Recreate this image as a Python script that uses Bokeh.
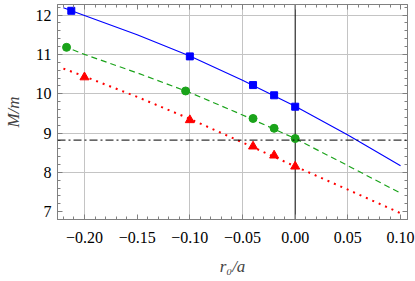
from bokeh.plotting import figure
from bokeh.models import LinearAxis, FixedTicker, Span, Range1d, CustomLabelingPolicy
from bokeh.embed import file_html
from bokeh.resources import INLINE

# ---- data ----
blue_x = [-0.2125, -0.10, -0.04, -0.02, 0.00]
blue_y = [12.11, 10.95, 10.22, 9.96, 9.67]
green_x = [-0.217, -0.104, -0.04, -0.02, 0.00]
green_y = [11.18, 10.07, 9.37, 9.12, 8.86]
red_x = [-0.20, -0.10, -0.04, -0.02, 0.00]
red_y = [10.42, 9.33, 8.66, 8.43, 8.15]

fit_x = [-0.22, -0.20, -0.15, -0.10, -0.05, 0.00, 0.05, 0.10]
blue_fit = [12.19, 11.99, 11.50, 10.96, 10.34, 9.68, 8.95, 8.17]
green_fit = [11.21, 11.00, 10.53, 10.03, 9.46, 8.86, 8.17, 7.47]
red_fit = [10.64, 10.44, 9.92, 9.36, 8.76, 8.15, 7.56, 6.96]

threshold = 8.82

x_ticks = [-0.20, -0.15, -0.10, -0.05, 0.00, 0.05, 0.10]
x_tick_labels = ["\u22120.20", "\u22120.15", "\u22120.10", "\u22120.05", "0.00", "0.05", "0.10"]
x_minor = [round(-0.22 + 0.01 * i, 2) for i in range(33)]
y_ticks = [7, 8, 9, 10, 11, 12]
y_tick_labels = ["7", "8", "9", "10", "11", "12"]
y_minor = [round(6.8 + 0.2 * i, 1) for i in range(28)]
x_grid = [-0.20, -0.10, -0.05, 0.05]
y_grid = [8, 9, 10, 11, 12]

FONT = "Liberation Serif"
FRAME = "#808080"

p = figure(width=415, height=281,
           x_range=Range1d(-0.2256, 0.1066), y_range=Range1d(6.8, 12.27),
           output_backend="svg", toolbar_location=None,
           min_border_left=56, min_border_right=8, min_border_top=2, min_border_bottom=62)
p.outline_line_color = FRAME
p.background_fill_color = "white"
p.border_fill_color = "white"

hide_all = CustomLabelingPolicy(code="""
for (let i = 0; i < indices.size; i++) { indices.unset(i) }
return indices
""")

def style_axis(ax, ticks, minor, labels, show_labels):
    ax.ticker = FixedTicker(ticks=ticks, minor_ticks=minor)
    ax.axis_line_color = FRAME
    ax.major_tick_line_color = FRAME
    ax.minor_tick_line_color = FRAME
    ax.major_tick_in = 5
    ax.major_tick_out = 0
    ax.minor_tick_in = 3
    ax.minor_tick_out = 0
    ax.major_label_overrides = {t: l for t, l in zip(ticks, labels)}
    if show_labels:
        ax.major_label_text_font = FONT
        ax.major_label_text_font_size = "16px"
        ax.major_label_text_color = "black"
    else:
        ax.major_label_policy = hide_all
        ax.major_label_text_font_size = "1px"
        ax.major_label_standoff = 0

xa = p.xaxis[0]
style_axis(xa, x_ticks, x_minor, x_tick_labels, True)
xa.major_label_standoff = 12
xa.axis_label = "r\u2080/a"
xa.axis_label_text_font = FONT
xa.axis_label_text_font_style = "italic"
xa.axis_label_text_font_size = "17px"
xa.axis_label_standoff = 11

ya = p.yaxis[0]
style_axis(ya, y_ticks, y_minor, y_tick_labels, True)
ya.major_label_standoff = 6
ya.axis_label = "M/m"
ya.axis_label_text_font = FONT
ya.axis_label_text_font_style = "italic"
ya.axis_label_text_font_size = "17px"
ya.axis_label_standoff = 10

top = LinearAxis()
style_axis(top, x_ticks, x_minor, x_tick_labels, False)
p.add_layout(top, "above")
right = LinearAxis()
style_axis(right, y_ticks, y_minor, y_tick_labels, False)
p.add_layout(right, "right")

p.xgrid.ticker = FixedTicker(ticks=x_grid)
p.ygrid.ticker = FixedTicker(ticks=y_grid)
for g in (p.xgrid[0], p.ygrid[0]):
    g.grid_line_color = "#c4c4c4"
    g.grid_line_width = 1

p.add_layout(Span(location=0.0, dimension="height", line_color="black",
                  line_width=1, level="underlay"))
p.add_layout(Span(location=threshold, dimension="width", line_color="black",
                  line_width=1, line_dash="8 3 2 3"))

p.line(fit_x, blue_fit, line_color="#0000ff", line_width=1.1)
p.line(fit_x, green_fit, line_color="#1aa31a", line_width=1.2, line_dash="6 4")
p.line(fit_x, red_fit, line_color="#ff0000", line_width=2, line_dash="2 5")

p.scatter(blue_x, blue_y, marker="square", size=7, color="#0000ff")
p.scatter(green_x, green_y, marker="circle", size=8, color="#1aa31a")
p.scatter(red_x, red_y, marker="triangle", size=9, color="#ff0000")

open("out.html", "w").write(file_html(p, INLINE))
